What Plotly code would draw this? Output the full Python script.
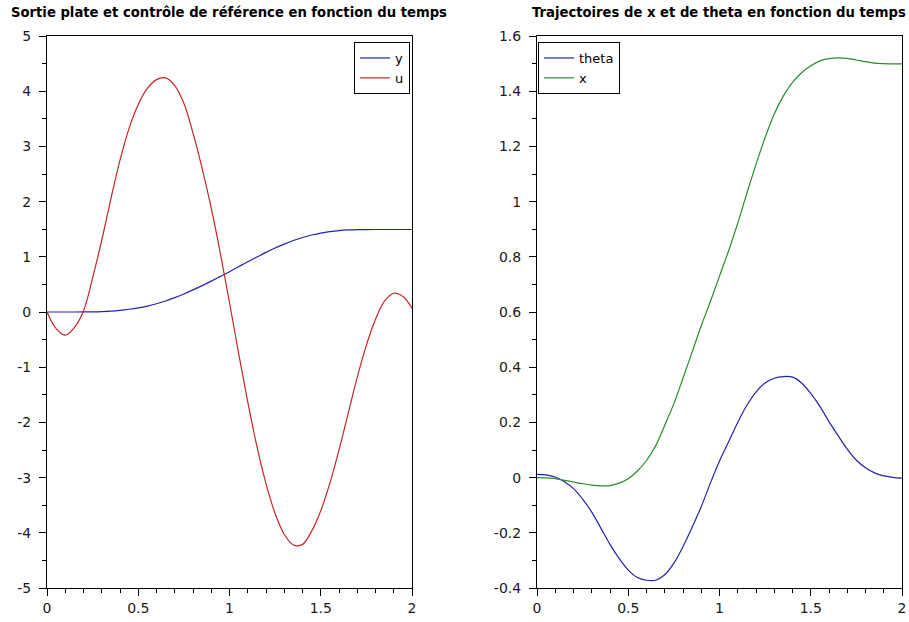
import plotly.graph_objects as go

# ---- data ----
t = [0.00, 0.05, 0.10, 0.15, 0.20, 0.25, 0.30, 0.35, 0.40, 0.45,
     0.50, 0.55, 0.60, 0.65, 0.70, 0.75, 0.80, 0.85, 0.90, 0.95,
     1.00, 1.05, 1.10, 1.15, 1.20, 1.25, 1.30, 1.35, 1.40, 1.45,
     1.50, 1.55, 1.60, 1.65, 1.70, 1.75, 1.80, 1.85, 1.90, 1.95, 2.00]

y_flat = [0.000, 0.000, 0.000, 0.000, 0.001, 0.003, 0.008, 0.016, 0.030, 0.050,
          0.075, 0.108, 0.150, 0.200, 0.260, 0.327, 0.400, 0.478, 0.560, 0.645,
          0.730, 0.820, 0.910, 0.995, 1.080, 1.160, 1.230, 1.295, 1.350, 1.395,
          1.430, 1.456, 1.475, 1.486, 1.492, 1.494, 1.495, 1.495, 1.495, 1.495, 1.495]

u_ref = [0.00, -0.30, -0.42, -0.28, 0.02, 0.62, 1.30, 2.05, 2.75, 3.33,
         3.76, 4.05, 4.21, 4.24, 4.10, 3.78, 3.24, 2.60, 1.88, 1.06,
         0.17, -0.75, -1.63, -2.43, -3.11, -3.65, -4.03, -4.22, -4.21, -3.97,
         -3.60, -3.10, -2.50, -1.84, -1.18, -0.60, -0.13, 0.20, 0.34, 0.28, 0.07]

theta = [0.012, 0.010, 0.002, -0.015, -0.040, -0.078, -0.125, -0.183, -0.242, -0.293,
         -0.335, -0.362, -0.372, -0.372, -0.352, -0.310, -0.250, -0.180, -0.105, -0.020,
         0.060, 0.130, 0.200, 0.262, 0.310, 0.343, 0.360, 0.366, 0.364, 0.343,
         0.305, 0.258, 0.203, 0.152, 0.103, 0.063, 0.036, 0.017, 0.006, 0.001, -0.002]

x_pos = [0.000, -0.001, -0.004, -0.010, -0.016, -0.022, -0.027, -0.030, -0.029, -0.020,
         -0.004, 0.024, 0.062, 0.115, 0.190, 0.268, 0.360, 0.455, 0.550, 0.638,
         0.730, 0.822, 0.922, 1.030, 1.135, 1.232, 1.317, 1.383, 1.432, 1.467,
         1.492, 1.510, 1.518, 1.521, 1.519, 1.513, 1.507, 1.502, 1.500, 1.499, 1.499]

x_ticks = [0, 0.5, 1, 1.5, 2]
x_tick_text = ["0", "0.5", "1", "1.5", "2"]
y1_ticks = [5, 4, 3, 2, 1, 0, -1, -2, -3, -4, -5]
y1_tick_text = ["5", "4", "3", "2", "1", "0", "-1", "-2", "-3", "-4", "-5"]
y2_ticks = [1.6, 1.4, 1.2, 1.0, 0.8, 0.6, 0.4, 0.2, 0, -0.2, -0.4]
y2_tick_text = ["1.6", "1.4", "1.2", "1", "0.8", "0.6", "0.4", "0.2", "0", "-0.2", "-0.4"]

title_left = "Sortie plate et contrôle de référence en fonction du temps"
title_right = "Trajectoires de x et de theta en fonction du temps"

BLUE = "#2424a8"
RED = "#c42626"
GREEN = "#2b8a2b"
FONT = "DejaVu Sans"

fig = go.Figure()
fig.add_trace(go.Scatter(x=t, y=y_flat, name="y", mode="lines", line=dict(color=BLUE, width=1.2, shape="spline"),
                         xaxis="x", yaxis="y", legend="legend"))
fig.add_trace(go.Scatter(x=t, y=u_ref, name="u", mode="lines", line=dict(color=RED, width=1.2, shape="spline"),
                         xaxis="x", yaxis="y", legend="legend"))
fig.add_trace(go.Scatter(x=t, y=theta, name="theta", mode="lines", line=dict(color=BLUE, width=1.2, shape="spline"),
                         xaxis="x2", yaxis="y2", legend="legend2"))
fig.add_trace(go.Scatter(x=t, y=x_pos, name="x", mode="lines", line=dict(color=GREEN, width=1.2, shape="spline"),
                         xaxis="x2", yaxis="y2", legend="legend2"))

W, H = 909, 622
ML, MR, MT, MB = 47, 7, 36, 34
PW = W - ML - MR
PH = H - MT - MB

def px2x(p):
    return (p - ML) / PW

def px2y(p):
    return 1 - (p - MT) / PH

common = dict(showline=True, linecolor="black", linewidth=1, mirror=True,
              ticks="outside", ticklen=7, tickwidth=1, tickcolor="black",
              showgrid=False, zeroline=False, tickmode="array", automargin=False,
              ticklabeloverflow="allow",
              tickfont=dict(family=FONT, size=14, color="#1a1a1a"))

fig.update_layout(
    width=W, height=H,
    margin=dict(l=ML, r=MR, t=MT, b=MB, autoexpand=False),
    paper_bgcolor="white", plot_bgcolor="white",
    font=dict(family=FONT, size=13, color="black"),
    xaxis=dict(domain=[0, px2x(412)], range=[0, 2], tickvals=x_ticks, ticktext=x_tick_text,
               minor=dict(dtick=0.1, tick0=0, ticks="outside", ticklen=4, tickcolor="black"),
               anchor="y", **common),
    yaxis=dict(domain=[0, 1], range=[-5, 5], tickvals=y1_ticks, ticktext=y1_tick_text,
               minor=dict(dtick=0.5, tick0=0, ticks="outside", ticklen=4, tickcolor="black"),
               anchor="x", ticklabelstandoff=5, **common),
    xaxis2=dict(domain=[px2x(537), 1], range=[0, 2], tickvals=x_ticks, ticktext=x_tick_text,
                minor=dict(dtick=0.1, tick0=0, ticks="outside", ticklen=4, tickcolor="black"),
                anchor="y2", **common),
    yaxis2=dict(domain=[0, 1], range=[-0.4, 1.6], tickvals=y2_ticks, ticktext=y2_tick_text,
                minor=dict(dtick=0.1, tick0=0, ticks="outside", ticklen=4, tickcolor="black"),
                anchor="x2", ticklabelstandoff=5, **common),
    legend=dict(x=px2x(410), xanchor="right", y=px2y(42), yanchor="top",
                bordercolor="black", borderwidth=1, bgcolor="white",
                font=dict(family=FONT, size=13, color="black")),
    legend2=dict(x=px2x(538), xanchor="left", y=px2y(42), yanchor="top",
                 bordercolor="black", borderwidth=1, bgcolor="white",
                 font=dict(family=FONT, size=13, color="black")),
    annotations=[
        dict(text=title_left, x=px2x(229), y=px2y(12), xref="paper", yref="paper",
             xanchor="center", yanchor="middle", showarrow=False,
             font=dict(family=FONT, size=13.2, color="black", weight="bold")),
        dict(text=title_right, x=px2x(719), y=px2y(12), xref="paper", yref="paper",
             xanchor="center", yanchor="middle", showarrow=False,
             font=dict(family=FONT, size=13.2, color="black", weight="bold")),
    ],
)

# remove the browser's default 8px body margin so the figure sits at the page origin
fig.write_html("out.html", config={"displayModeBar": False},
               post_script="document.body.style.margin='0px';")
